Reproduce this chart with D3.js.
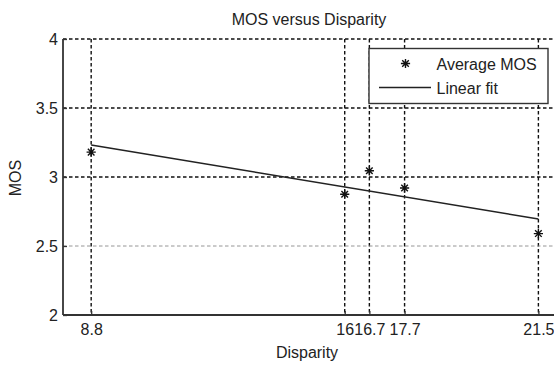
<!DOCTYPE html>
<html>
<head>
<meta charset="utf-8">
<script src="https://cdn.jsdelivr.net/npm/d3@7"></script>
<style>
  body { margin: 0; background: #fff; }
  text { font-family: "Liberation Sans", Arial, sans-serif; fill: #222; }
</style>
</head>
<body>
<div id="chart"></div>
<script>
// values
var disparity = [8.8, 16, 16.7, 17.7, 21.5];
var mos = [3.18, 2.875, 3.045, 2.92, 2.59];
var xTicks = [8.8, 16, 16.7, 17.7, 21.5];
var yTicks = [2, 2.5, 3, 3.5, 4];

var width = 554, height = 365;
var svg = d3.select("#chart").append("svg")
  .attr("width", width)
  .attr("height", height);

var x = d3.scaleLinear().domain([8, 22]).range([63, 556]);
var y = d3.scaleLinear().domain([2, 4]).range([315, 39]);

// grid
svg.append("g").selectAll("line.vgrid")
  .data(xTicks)
  .enter().append("line")
  .attr("x1", function(d) { return x(d); })
  .attr("x2", function(d) { return x(d); })
  .attr("y1", y(4))
  .attr("y2", y(2))
  .attr("stroke", "#111")
  .attr("stroke-width", 1.4)
  .attr("stroke-dasharray", "3.5,2.5");

svg.append("g").selectAll("line.hgrid")
  .data(yTicks.slice(1))
  .enter().append("line")
  .attr("x1", x(8))
  .attr("x2", width)
  .attr("y1", function(d) { return y(d); })
  .attr("y2", function(d) { return y(d); })
  .attr("stroke", function(d) { return d == 2.5 ? "#8a8a8a" : "#111"; })
  .attr("stroke-width", function(d) { return d == 2.5 ? 0.9 : 1.4; })
  .attr("stroke-dasharray", "3.5,2.5");

// axes
var xAxis = svg.append("g")
  .attr("transform", "translate(0," + y(2) + ")")
  .call(d3.axisBottom(x).tickValues(xTicks).tickFormat(d3.format("")).tickSizeInner(-4).tickSizeOuter(0).tickPadding(9));
var yAxis = svg.append("g")
  .attr("transform", "translate(" + x(8) + ",0)")
  .call(d3.axisLeft(y).tickValues(yTicks).tickFormat(d3.format("")).tickSizeInner(-4).tickSizeOuter(0).tickPadding(5));

[xAxis, yAxis].forEach(function(a) {
  a.select(".domain").attr("stroke", "#333").attr("stroke-width", 1.8);
  a.selectAll(".tick line").attr("stroke", "#333").attr("stroke-width", 1.3);
  a.selectAll(".tick text")
    .attr("font-family", "Liberation Sans, Arial, sans-serif")
    .attr("font-size", "16px")
    .attr("fill", "#222");
});
xAxis.select(".domain").attr("d", "M" + x(8) + ",0H" + width);
yAxis.select(".domain").attr("d", "M0," + y(4) + "V" + y(2));

// linear fit from the points
var mx = d3.mean(disparity), my = d3.mean(mos);
var sxy = d3.sum(disparity, function(d, i) { return (d - mx) * (mos[i] - my); });
var sxx = d3.sum(disparity, function(d) { return (d - mx) * (d - mx); });
var slope = sxy / sxx, icpt = my - slope * mx;
var fitX = [d3.min(disparity), d3.max(disparity)];

svg.append("path")
  .datum(fitX)
  .attr("fill", "none")
  .attr("stroke", "#222")
  .attr("stroke-width", 1.6)
  .attr("d", d3.line()
    .x(function(d) { return x(d); })
    .y(function(d) { return y(icpt + slope * d); }));

// asterisk markers
function star(cx, cy) {
  var r = 4.6, q = 3.3;
  return "M" + (cx - r) + "," + cy + "H" + (cx + r) +
    "M" + cx + "," + (cy - r) + "V" + (cy + r) +
    "M" + (cx - q) + "," + (cy - q) + "L" + (cx + q) + "," + (cy + q) +
    "M" + (cx - q) + "," + (cy + q) + "L" + (cx + q) + "," + (cy - q);
}

svg.append("g").selectAll("path.pt")
  .data(disparity)
  .enter().append("path")
  .attr("d", function(d, i) { return star(x(d), y(mos[i])); })
  .attr("stroke", "#111")
  .attr("stroke-width", 1.4)
  .attr("fill", "none");

// legend
var lg = svg.append("g");
lg.append("rect")
  .attr("x", 369).attr("y", 48.5)
  .attr("width", 179).attr("height", 55)
  .attr("fill", "#fff")
  .attr("stroke", "#333")
  .attr("stroke-width", 1.4);
lg.append("path")
  .attr("d", star(405.5, 63.5))
  .attr("stroke", "#111")
  .attr("stroke-width", 1.4);
lg.append("text")
  .attr("x", 436.5).attr("y", 69.5)
  .attr("font-size", "16px")
  .text("Average MOS");
lg.append("line")
  .attr("x1", 379).attr("x2", 431)
  .attr("y1", 87.5).attr("y2", 87.5)
  .attr("stroke", "#222")
  .attr("stroke-width", 1.5);
lg.append("text")
  .attr("x", 436.5).attr("y", 94)
  .attr("font-size", "16px")
  .text("Linear fit");

// titles
svg.append("text")
  .attr("x", 309).attr("y", 25)
  .attr("text-anchor", "middle")
  .attr("font-size", "16px")
  .text("MOS versus Disparity");
svg.append("text")
  .attr("x", 307).attr("y", 358)
  .attr("text-anchor", "middle")
  .attr("font-size", "16px")
  .text("Disparity");
svg.append("text")
  .attr("transform", "translate(21,178) rotate(-90)")
  .attr("text-anchor", "middle")
  .attr("font-size", "16px")
  .text("MOS");
</script>
</body>
</html>
